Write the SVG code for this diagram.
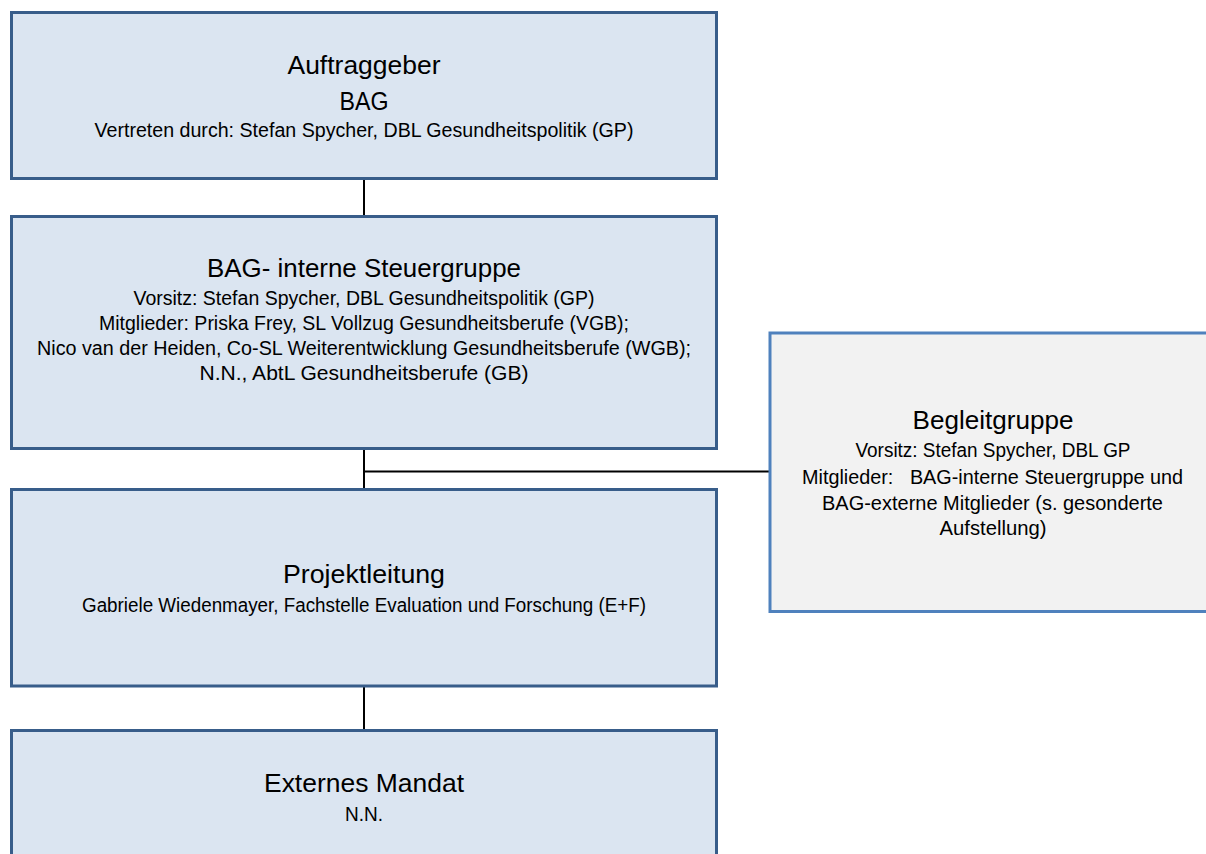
<svg xmlns="http://www.w3.org/2000/svg" width="1206" height="854" viewBox="0 0 1206 854">
<style>
.box{fill:#dbe5f1;stroke:#385d8a;stroke-width:3}
.gbox{fill:#f2f2f2;stroke:#4f81bd;stroke-width:3}
.conn{stroke:#000;stroke-width:2;fill:none}
text{font-family:"Liberation Sans",Arial,sans-serif;fill:#000;text-anchor:middle}
.t{font-size:26px}
.s{font-size:19.5px}
</style>
<rect width="1206" height="854" fill="#fff"/>
<g id="connectors">
<line class="conn" x1="364" y1="179" x2="364" y2="216"/>
<line class="conn" x1="364" y1="449" x2="364" y2="489"/>
<line class="conn" x1="364" y1="471.5" x2="769" y2="471.5"/>
<line class="conn" x1="364" y1="686" x2="364" y2="730"/>
</g>
<g id="auftraggeber">
<rect class="box" x="11.5" y="12.5" width="705" height="166"/>
<text class="t" x="364" y="74" textLength="153" lengthAdjust="spacingAndGlyphs">Auftraggeber</text>
<text class="t" x="364" y="109.5" textLength="49" lengthAdjust="spacingAndGlyphs">BAG</text>
<text class="s" x="364" y="137" textLength="539" lengthAdjust="spacingAndGlyphs">Vertreten durch: Stefan Spycher, DBL Gesundheitspolitik (GP)</text>
</g>
<g id="steuergruppe">
<rect class="box" x="11.5" y="216.5" width="705" height="232"/>
<text class="t" x="364" y="277" textLength="314" lengthAdjust="spacingAndGlyphs">BAG- interne Steuergruppe</text>
<text class="s" x="364" y="305" textLength="461" lengthAdjust="spacingAndGlyphs">Vorsitz: Stefan Spycher, DBL Gesundheitspolitik (GP)</text>
<text class="s" x="364" y="330" textLength="530" lengthAdjust="spacingAndGlyphs">Mitglieder: Priska Frey, SL Vollzug Gesundheitsberufe (VGB);</text>
<text class="s" x="364" y="354.5" textLength="654" lengthAdjust="spacingAndGlyphs">Nico van der Heiden, Co-SL Weiterentwicklung Gesundheitsberufe (WGB);</text>
<text class="s" x="364" y="380" textLength="329" lengthAdjust="spacingAndGlyphs">N.N., AbtL Gesundheitsberufe (GB)</text>
</g>
<g id="projektleitung">
<rect class="box" x="11.5" y="489.5" width="705" height="196.5"/>
<text class="t" x="364" y="583" textLength="162" lengthAdjust="spacingAndGlyphs">Projektleitung</text>
<text class="s" x="364" y="611.5" textLength="564" lengthAdjust="spacingAndGlyphs">Gabriele Wiedenmayer, Fachstelle Evaluation und Forschung (E+F)</text>
</g>
<g id="externes-mandat">
<rect class="box" x="11.5" y="730.5" width="705" height="140"/>
<text class="t" x="364" y="791.5" textLength="200" lengthAdjust="spacingAndGlyphs">Externes Mandat</text>
<text class="s" x="364" y="820.5" textLength="38" lengthAdjust="spacingAndGlyphs">N.N.</text>
</g>
<g id="begleitgruppe">
<rect class="gbox" x="770" y="333" width="450" height="278.5"/>
<text class="t" x="993" y="429" textLength="161" lengthAdjust="spacingAndGlyphs">Begleitgruppe</text>
<text class="s" x="993" y="457" textLength="275" lengthAdjust="spacingAndGlyphs">Vorsitz: Stefan Spycher, DBL GP</text>
<text class="s" x="992.5" y="483.5" textLength="381" lengthAdjust="spacingAndGlyphs" xml:space="preserve">Mitglieder:   BAG-interne Steuergruppe und</text>
<text class="s" x="992.5" y="509.5" textLength="341" lengthAdjust="spacingAndGlyphs">BAG-externe Mitglieder (s. gesonderte</text>
<text class="s" x="993" y="535" textLength="107" lengthAdjust="spacingAndGlyphs">Aufstellung)</text>
</g>
</svg>
